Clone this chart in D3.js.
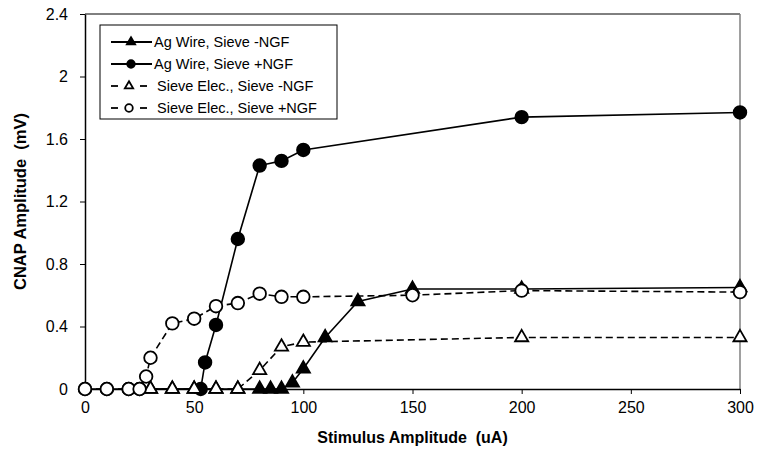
<!DOCTYPE html>
<html>
<head>
<meta charset="utf-8">
<script src="https://cdn.jsdelivr.net/npm/d3@7"></script>
<style>
  body { margin: 0; background: #fff; }
  text { font-family: "Liberation Sans", Arial, sans-serif; }
</style>
</head>
<body>
<div class="chart"></div>
<script>
// data
var agMinusX = [30, 40, 50, 60, 70, 80, 85, 90, 95, 100, 110, 125, 150, 200, 300];
var agMinusY = [0, 0, 0, 0, 0, 0, 0, 0, 0.04, 0.13, 0.33, 0.56, 0.64, 0.64, 0.65];
var agPlusX = [0, 10, 20, 25, 53, 55, 60, 70, 80, 90, 100, 200, 300];
var agPlusY = [0, 0, 0, 0, 0, 0.17, 0.41, 0.96, 1.43, 1.46, 1.53, 1.74, 1.77];
var sieveMinusX = [30, 40, 50, 60, 70, 80, 90, 100, 200, 300];
var sieveMinusY = [0, 0, 0, 0, 0, 0.12, 0.27, 0.3, 0.33, 0.33];
var sievePlusX = [0, 10, 20, 25, 28, 30, 40, 50, 60, 70, 80, 90, 100, 150, 200, 300];
var sievePlusY = [0, 0, 0, 0, 0.08, 0.2, 0.42, 0.45, 0.53, 0.55, 0.61, 0.59, 0.59, 0.6, 0.63, 0.62];
var seriesNames = ["Ag Wire, Sieve -NGF", "Ag Wire, Sieve +NGF", "Sieve Elec., Sieve -NGF", "Sieve Elec., Sieve +NGF"];
var xTicks = [0, 50, 100, 150, 200, 250, 300];
var yTicks = [0, 0.4, 0.8, 1.2, 1.6, 2, 2.4];

var W = 759, H = 455,
    margin = {top: 14, right: 19, bottom: 66, left: 85},
    width = W - margin.left - margin.right,
    height = H - margin.top - margin.bottom;

var zip = function(xs, ys) { return xs.map(function(v, i) { return {x: v, y: ys[i]}; }); };
var series = [
  {name: seriesNames[0], pts: zip(agMinusX, agMinusY), shape: "tri", fill: "#000", dash: null},
  {name: seriesNames[1], pts: zip(agPlusX, agPlusY), shape: "circ", fill: "#000", dash: null},
  {name: seriesNames[2], pts: zip(sieveMinusX, sieveMinusY), shape: "tri", fill: "#fff", dash: "7,4"},
  {name: seriesNames[3], pts: zip(sievePlusX, sievePlusY), shape: "circ", fill: "#fff", dash: "7,4"}
];

var svgm = d3.select('.chart').append('svg').attr('width', W).attr('height', H);
var svg = svgm.append('g').attr('transform', `translate(${margin.left},${margin.top})`);

var x = d3.scaleLinear().domain([0, 300]).range([0, width]),
    y = d3.scaleLinear().domain([0, 2.4]).range([height, 0]);

// plot frame: top black, right grey
svg.append('line').attr('x1', 0).attr('x2', width).attr('y1', 0).attr('y2', 0)
  .attr('stroke', '#000').attr('stroke-width', 1);
svg.append('line').attr('x1', width).attr('x2', width).attr('y1', 0).attr('y2', height)
  .attr('stroke', '#808080').attr('stroke-width', 1.5);

var xAxis = d3.axisBottom(x).tickValues(xTicks).tickSize(5).tickSizeOuter(0).tickFormat(d3.format('d')),
    yAxis = d3.axisLeft(y).tickValues(yTicks).tickSize(5).tickSizeOuter(0).tickFormat(function(d) { return String(d); });

var gx = svg.append('g').attr('transform', `translate(0,${height})`).call(xAxis);
var gy = svg.append('g').call(yAxis);
[gx, gy].forEach(function(g) {
  g.select('.domain').attr('stroke', '#000').attr('stroke-width', 1.5);
  g.selectAll('.tick line').attr('stroke', '#000').attr('stroke-width', 1);
  g.selectAll('.tick text').attr('fill', '#000').style('font-size', '16px')
    .style('font-family', '"Liberation Sans", Arial, sans-serif');
});
gx.selectAll('.tick text').attr('y', 10).attr('dy', '0.85em');
gy.selectAll('.tick text').attr('x', -17);

var tri = d3.symbol().type(d3.symbolTriangle).size(75),
    circ = d3.symbol().type(d3.symbolCircle).size(125);

var line = d3.line().x(function(d) { return x(d.x); }).y(function(d) { return y(d.y); });

series.forEach(function(s) {
  svg.append('path').datum(s.pts).attr('d', line)
    .attr('fill', 'none').attr('stroke', '#000').attr('stroke-width', 1.6)
    .attr('stroke-dasharray', s.dash);
  svg.selectAll(null).data(s.pts).enter().append('path')
    .attr('d', s.shape === 'tri' ? tri : circ)
    .attr('transform', function(d) { return `translate(${x(d.x)},${y(d.y)})`; })
    .attr('fill', s.fill).attr('stroke', '#000').attr('stroke-width', 1.8);
});

// axis titles (double space kept)
svgm.append('text').attr('x', margin.left + width / 2).attr('y', 443)
  .attr('text-anchor', 'middle').style('font-size', '16px').style('font-weight', 'bold')
  .style('white-space', 'pre')
  .text('Stimulus Amplitude  (uA)');
svgm.append('text').attr('transform', `translate(20,${margin.top + height / 2}) rotate(-90)`)
  .attr('text-anchor', 'middle').attr('dy', '0.35em').style('font-size', '16.5px').style('font-weight', 'bold')
  .style('white-space', 'pre')
  .text('CNAP Amplitude  (mV)');

// legend
var lg = svgm.append('g').attr('transform', 'translate(100,25)');
lg.append('rect').attr('width', 237).attr('height', 94)
  .attr('fill', '#fff').attr('stroke', '#000').attr('stroke-width', 1);
var legTri = d3.symbol().type(d3.symbolTriangle).size(30),
    legCirc = d3.symbol().type(d3.symbolCircle).size(45);
series.forEach(function(s, i) {
  var yy = 17 + i * 22;
  if (s.dash) {
    [[11, 18], [40, 47]].forEach(function(seg) {
      lg.append('line').attr('x1', seg[0]).attr('x2', seg[1]).attr('y1', yy).attr('y2', yy)
        .attr('stroke', '#000').attr('stroke-width', 1.8);
    });
  } else {
    lg.append('line').attr('x1', 11).attr('x2', 52).attr('y1', yy).attr('y2', yy)
      .attr('stroke', '#000').attr('stroke-width', 1.8);
  }
  lg.append('path').attr('d', s.shape === 'tri' ? legTri() : legCirc())
    .attr('transform', `translate(${s.dash ? 29 : 31},${yy})`)
    .attr('fill', s.fill).attr('stroke', '#000').attr('stroke-width', 1.8);
  lg.append('text').attr('x', s.dash ? 57 : 54).attr('y', yy).attr('dy', '0.35em')
    .style('font-size', '14.5px').text(s.name);
});
</script>
</body>
</html>
